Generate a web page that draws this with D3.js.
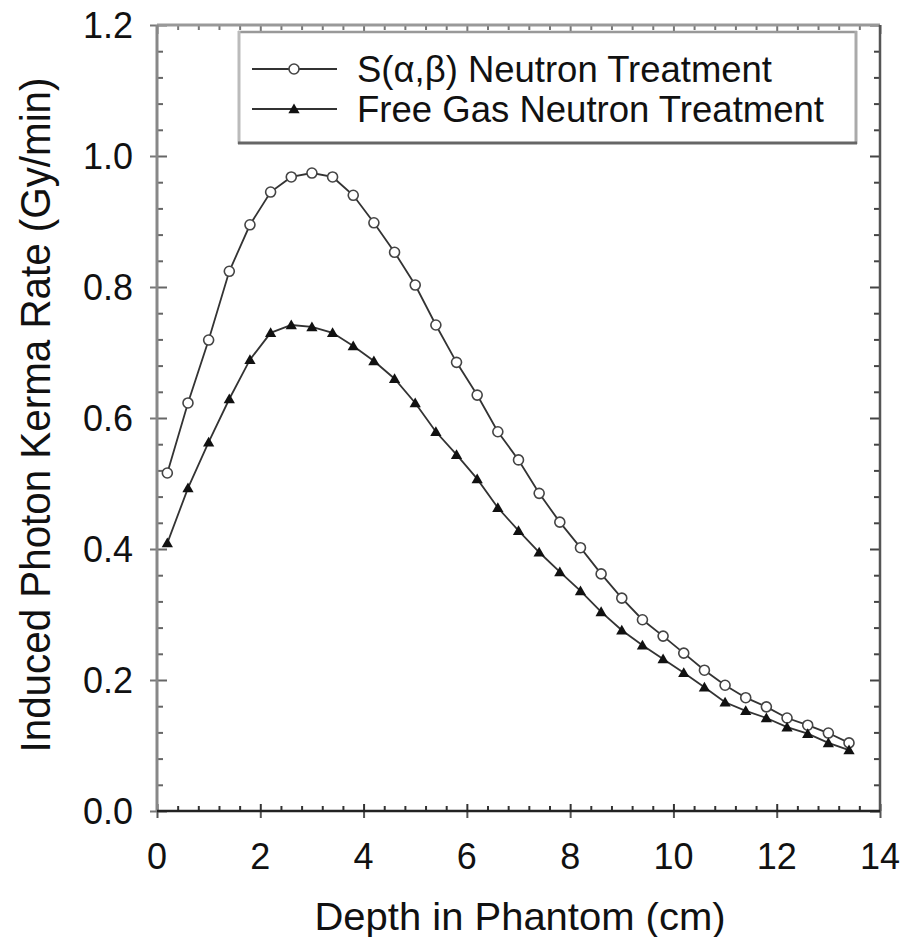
<!DOCTYPE html>
<html>
<head>
<meta charset="utf-8">
<script src="https://cdn.jsdelivr.net/npm/d3@7"></script>
<style>
	body { margin: 0; background: #fff; }
	svg { display: block; }
	text { font-family: "Liberation Sans", Arial, Helvetica, sans-serif; fill: #111; }
</style>
</head>
<body>
<svg id="chart" width="915" height="937"></svg>
<script>
// depth in phantom (cm), one sample every 0.4 cm
const depth = [0.2, 0.6, 1.0, 1.4, 1.8, 2.2, 2.6, 3.0, 3.4, 3.8, 4.2, 4.6, 5.0, 5.4, 5.8,
	6.2, 6.6, 7.0, 7.4, 7.8, 8.2, 8.6, 9.0, 9.4, 9.8, 10.2, 10.6, 11.0, 11.4, 11.8,
	12.2, 12.6, 13.0, 13.4];

// S(alpha,beta) neutron treatment, Gy/min
const sab_rate = [0.516, 0.623, 0.719, 0.824, 0.895, 0.945, 0.968, 0.974, 0.968, 0.940,
	0.898, 0.853, 0.803, 0.742, 0.685, 0.635, 0.579, 0.536, 0.485, 0.441, 0.402, 0.362,
	0.325, 0.292, 0.267, 0.241, 0.215, 0.192, 0.173, 0.159, 0.142, 0.131, 0.119, 0.104];

// free gas neutron treatment, Gy/min
const freegas_rate = [0.409, 0.493, 0.563, 0.629, 0.689, 0.730, 0.742, 0.739, 0.730, 0.710,
	0.687, 0.660, 0.623, 0.579, 0.544, 0.507, 0.463, 0.428, 0.395, 0.365, 0.336, 0.304,
	0.276, 0.253, 0.232, 0.211, 0.189, 0.166, 0.153, 0.142, 0.128, 0.118, 0.104, 0.093];

const x_ticks = [0, 2, 4, 6, 8, 10, 12, 14];
const y_ticks = [0.0, 0.2, 0.4, 0.6, 0.8, 1.0, 1.2];
const legend_labels = ["S(\u03B1,\u03B2) Neutron Treatment", "Free Gas Neutron Treatment"];

let svg = d3.select("#chart");

// plot frame
let plot_left = 157, plot_right = 880, plot_top = 25, plot_bottom = 811;

let x = d3.scaleLinear().domain([0, 14]).range([plot_left, plot_right]);
let y = d3.scaleLinear().domain([0, 1.2]).range([plot_bottom, plot_top]);

// minor tick positions
let x_minor = d3.range(0, 14.001, 0.4).filter(v => Math.abs(v / 2 - Math.round(v / 2)) > 0.01);
let y_minor = d3.range(0, 1.2001, 0.04).filter(v => Math.abs(v / 0.2 - Math.round(v / 0.2)) > 0.01);

// draw one axis side: inward major ticks plus inward minor ticks
function drawAxis (axisFn, scale, transform, opts) {
	let g = svg.append("g").attr("transform", transform);
	g.append("g")
		.call(axisFn(scale).tickValues(opts.major).tickSizeInner(opts.inner).tickSizeOuter(0).tickFormat(""))
		.call(a => a.select(".domain").remove());
	g.append("g")
		.call(axisFn(scale).tickValues(opts.minor).tickSizeInner(opts.minorSize).tickSizeOuter(0).tickFormat(""))
		.call(a => a.select(".domain").remove());
	g.selectAll(".tick line").attr("stroke", opts.tickColor).attr("stroke-width", 2);
	return g;
}

// bottom axis (ticks point up, majors cross the line)
drawAxis(d3.axisTop, x, `translate(0,${plot_bottom})`,
	{major: x_ticks, minor: x_minor, inner: 7, minorSize: 5, tickColor: "#333"});
svg.append("g")
	.attr("transform", `translate(0,${plot_bottom})`)
	.call(d3.axisBottom(x).tickValues(x_ticks).tickSizeInner(7).tickSizeOuter(0).tickFormat(""))
	.call(a => a.select(".domain").remove())
	.selectAll(".tick line").attr("stroke", "#555").attr("stroke-width", 2);

// x labels
svg.append("g")
	.selectAll("text")
	.data(x_ticks)
	.enter()
	.append("text")
	.attr("x", d => x(d))
	.attr("y", 869)
	.attr("text-anchor", "middle")
	.attr("font-size", 36)
	.text(d => d);

// top axis (ticks point down)
drawAxis(d3.axisBottom, x, `translate(0,${plot_top})`,
	{major: x_ticks, minor: x_minor, inner: 9, minorSize: 5, tickColor: "#777"});

// left axis (ticks point right, majors cross the line)
drawAxis(d3.axisRight, y, `translate(${plot_left},0)`,
	{major: y_ticks, minor: y_minor, inner: 10, minorSize: 6, tickColor: "#666"});
svg.append("g")
	.attr("transform", `translate(${plot_left},0)`)
	.call(d3.axisLeft(y).tickValues(y_ticks).tickSizeInner(7).tickSizeOuter(0).tickFormat(""))
	.call(a => a.select(".domain").remove())
	.selectAll(".tick line").attr("stroke", "#777").attr("stroke-width", 2);

// y labels
svg.append("g")
	.selectAll("text")
	.data(y_ticks)
	.enter()
	.append("text")
	.attr("x", 133)
	.attr("y", d => y(d) + 13)
	.attr("text-anchor", "end")
	.attr("font-size", 36)
	.text(d => d3.format(".1f")(d));

// right axis (ticks point left)
drawAxis(d3.axisLeft, y, `translate(${plot_right},0)`,
	{major: y_ticks, minor: y_minor, inner: 10, minorSize: 6, tickColor: "#444"});

// frame lines, scanned look: light top/left, dark bottom/right
svg.append("line").attr("x1", plot_left).attr("x2", plot_right).attr("y1", plot_top).attr("y2", plot_top)
	.attr("stroke", "#999").attr("stroke-width", 3);
svg.append("line").attr("x1", plot_left).attr("x2", plot_left).attr("y1", plot_top).attr("y2", plot_bottom)
	.attr("stroke", "#888").attr("stroke-width", 3);
svg.append("line").attr("x1", plot_right).attr("x2", plot_right).attr("y1", plot_top).attr("y2", plot_bottom)
	.attr("stroke", "#555").attr("stroke-width", 2.5);
svg.append("line").attr("x1", plot_left).attr("x2", plot_right).attr("y1", plot_bottom).attr("y2", plot_bottom)
	.attr("stroke", "#222").attr("stroke-width", 2.5);

// axis titles
svg.append("text")
	.attr("x", 520)
	.attr("y", 930)
	.attr("text-anchor", "middle")
	.attr("font-size", 39)
	.attr("textLength", 411)
	.attr("lengthAdjust", "spacingAndGlyphs")
	.text("Depth in Phantom (cm)");

svg.append("text")
	.attr("transform", "translate(50,415) rotate(-90)")
	.attr("text-anchor", "middle")
	.attr("font-size", 42)
	.attr("textLength", 675)
	.attr("lengthAdjust", "spacingAndGlyphs")
	.text("Induced Photon Kerma Rate (Gy/min)");

// series
let series = [
	{name: legend_labels[0], values: sab_rate, marker: "circle"},
	{name: legend_labels[1], values: freegas_rate, marker: "triangle"}
];

let line = d3.line()
	.x(d => x(d[0]))
	.y(d => y(d[1]));

let tri = d3.symbol().type(d3.symbolTriangle).size(55);

function drawMarker (g, kind, cx, cy) {
	if (kind == "circle") {
		g.append("circle")
			.attr("cx", cx).attr("cy", cy).attr("r", 5)
			.attr("fill", "#fff")
			.attr("stroke", "#444")
			.attr("stroke-width", 1.6);
	}
	else {
		g.append("path")
			.attr("d", tri)
			.attr("transform", `translate(${cx},${cy + 1})`)
			.attr("fill", "#111");
	}
}

series.forEach(s => {
	let pts = depth.map((d, i) => [d, s.values[i]]);
	let g = svg.append("g");
	g.append("path")
		.attr("d", line(pts))
		.attr("fill", "none")
		.attr("stroke", "#333")
		.attr("stroke-width", 1.8);
	pts.forEach(p => drawMarker(g, s.marker, x(p[0]), y(p[1])));
});

// legend
let lg = svg.append("g");
lg.append("rect")
	.attr("x", 238).attr("y", 31).attr("width", 619).attr("height", 113)
	.attr("fill", "#fff");
lg.append("line").attr("x1", 238).attr("x2", 857).attr("y1", 32).attr("y2", 32)
	.attr("stroke", "#999").attr("stroke-width", 2.5);
lg.append("line").attr("x1", 239).attr("x2", 239).attr("y1", 31).attr("y2", 144)
	.attr("stroke", "#bbb").attr("stroke-width", 3);
lg.append("line").attr("x1", 856).attr("x2", 856).attr("y1", 31).attr("y2", 144)
	.attr("stroke", "#aaa").attr("stroke-width", 3);
lg.append("line").attr("x1", 238).attr("x2", 857).attr("y1", 143).attr("y2", 143)
	.attr("stroke", "#666").attr("stroke-width", 3);

series.forEach((s, i) => {
	let ly = 69 + i * 40;
	lg.append("line")
		.attr("x1", 252).attr("x2", 337).attr("y1", ly).attr("y2", ly)
		.attr("stroke", "#333").attr("stroke-width", 1.8);
	drawMarker(lg, s.marker, 294, ly);
	lg.append("text")
		.attr("x", 357)
		.attr("y", ly + 13)
		.attr("font-size", 36)
		.attr("textLength", i == 0 ? 415 : 467)
		.attr("lengthAdjust", "spacingAndGlyphs")
		.text(s.name);
});
</script>
</body>
</html>
